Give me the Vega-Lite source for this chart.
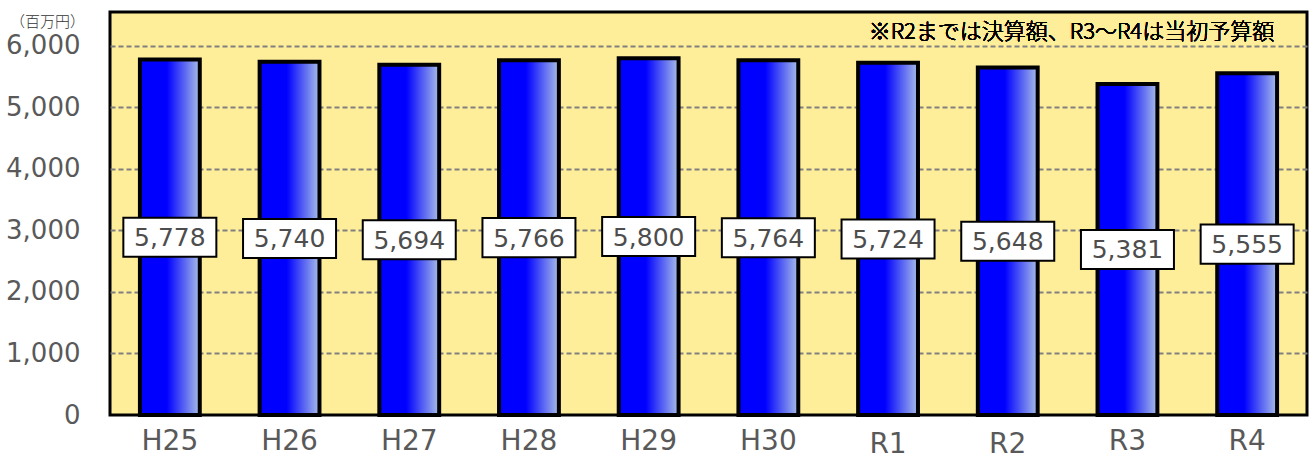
{
  "$schema": "https://vega.github.io/schema/vega-lite/v6.json",
  "width": 1197,
  "height": 403,
  "autosize": "none",
  "padding": {"left": 110, "top": 12, "right": 6, "bottom": 44},
  "background": "white",
  "data": {
    "values": [
      {"year": "H25", "value": 5778},
      {"year": "H26", "value": 5740},
      {"year": "H27", "value": 5694},
      {"year": "H28", "value": 5766},
      {"year": "H29", "value": 5800},
      {"year": "H30", "value": 5764},
      {"year": "R1", "value": 5724},
      {"year": "R2", "value": 5648},
      {"year": "R3", "value": 5381},
      {"year": "R4", "value": 5555}
    ]
  },
  "config": {
    "view": {"fill": "#FFEE99", "stroke": "#000000", "strokeWidth": 3}
  },
  "layer": [
    {
      "layer": [
        {
          "mark": {
            "type": "bar",
            "fill": {
              "gradient": "linear",
              "x1": 0, "y1": 0, "x2": 1, "y2": 0,
              "stops": [
                {"offset": 0, "color": "#0000FF"},
                {"offset": 0.45, "color": "#0000FF"},
                {"offset": 1, "color": "#A8BEE8"}
              ]
            },
            "stroke": "#000000",
            "strokeWidth": 4
          },
          "encoding": {
            "x": {
              "field": "year",
              "type": "nominal",
              "sort": null,
              "scale": {"paddingInner": 0.5, "paddingOuter": 0.25},
              "axis": {
                "title": null,
                "labelAngle": 0,
                "labelFont": "DejaVu Sans",
                "labelFontSize": 28,
                "labelColor": "#595959",
                "ticks": false,
                "domain": false,
                "labelPadding": {"condition": {"test": "datum.value === 'R1' || datum.value === 'R2'", "value": 15}, "value": 12}
              }
            },
            "y": {
              "field": "value",
              "type": "quantitative",
              "scale": {"domain": [0, 6550], "nice": false},
              "axis": {
                "values": [0, 1000, 2000, 3000, 4000, 5000, 6000],
                "format": ",d",
                "labelFont": "DejaVu Sans",
                "labelFontSize": 26,
                "labelColor": "#595959",
                "labelPadding": 30,
                "ticks": false,
                "domain": false,
                "grid": true,
                "gridColor": {"condition": {"test": "datum.value === 0", "value": "transparent"}, "value": "#808080"},
                "gridDash": [5, 3],
                "gridWidth": 2,
                "title": "（百万円）",
                "titleAngle": 0,
                "titleFont": "Noto Sans CJK JP",
                "titleFontSize": 15,
                "titleFontWeight": 300,
                "titleColor": "#333333",
                "titleX": -63,
                "titleY": 9,
                "titleAlign": "center",
                "titleBaseline": "middle"
              }
            }
          }
        },
        {
          "mark": {
            "type": "text",
            "font": "Noto Sans CJK JP",
            "fontSize": 22,
            "fontWeight": 300,
            "color": "#000000",
            "align": "right",
            "baseline": "middle",
            "dx": 27
          },
          "encoding": {
            "x": {"datum": "R4", "type": "nominal"},
            "y": {"datum": 6230, "type": "quantitative"},
            "text": {"value": "※R2までは決算額、R3〜R4は当初予算額"}
          }
        }
      ]
    },
    {
      "mark": {
        "type": "point",
        "shape": "M-1,-0.42H1V0.42H-1Z",
        "size": 8649,
        "filled": true,
        "fill": "#FFFFFF",
        "stroke": "#000000",
        "strokeWidth": 2,
        "opacity": 1
      },
      "encoding": {
        "x": {"field": "year", "type": "nominal", "sort": null},
        "y": {"field": "value", "type": "quantitative", "scale": {"domain": [0, 13100], "nice": false}, "axis": null}
      }
    },
    {
      "mark": {
        "type": "text",
        "font": "DejaVu Sans",
        "fontSize": 25,
        "color": "#4D4D4D",
        "align": "center",
        "baseline": "middle",
        "dy": 1
      },
      "encoding": {
        "x": {"field": "year", "type": "nominal", "sort": null},
        "y": {"field": "value", "type": "quantitative", "scale": {"domain": [0, 13100], "nice": false}, "axis": null},
        "text": {"field": "value", "type": "quantitative", "format": ","}
      }
    }
  ],
  "resolve": {"scale": {"y": "independent"}}
}
